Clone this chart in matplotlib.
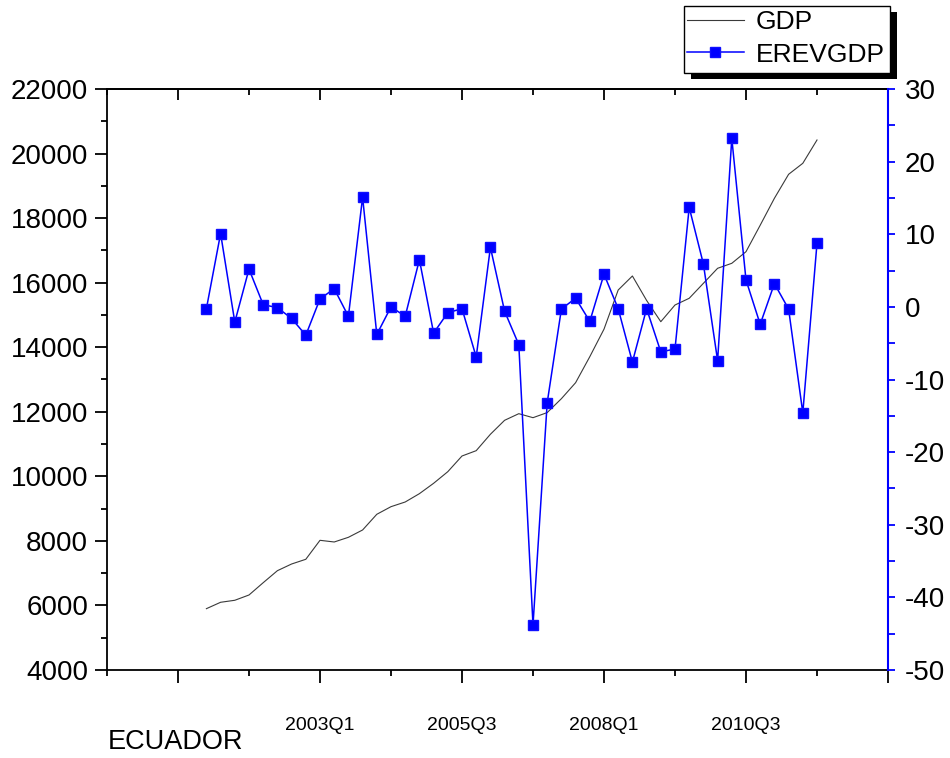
import matplotlib
matplotlib.use("Agg")
from matplotlib import pyplot as plt
from matplotlib.patches import Rectangle
from matplotlib.ticker import MultipleLocator, FixedLocator

plt.rcParams['font.family'] = ['Liberation Sans', 'DejaVu Sans']
plt.rcParams['axes.unicode_minus'] = False

# quarterly series, 2001Q1 .. 2011Q4
gdp = [5900, 6098, 6160, 6324, 6705, 7077, 7284, 7430, 8018, 7966,
       8111, 8338, 8824, 9060, 9205, 9463, 9784, 10144, 10630, 10795,
       11303, 11736, 11941, 11817, 11975, 12406, 12901, 13707, 14560, 15773,
       16207, 15450, 14791, 15308, 15516, 15980, 16445, 16600, 16960, 17780,
       18614, 19357, 19698, 20420]
erevgdp = [-0.25, 10.1, -2.1, 5.2, 0.3, -0.1, -1.6, -3.9, 1.1, 2.5,
           -1.3, 15.1, -3.8, 0.0, -1.3, 6.5, -3.6, -0.8, -0.25, -6.9,
           8.2, -0.6, -5.2, -43.8, -13.2, -0.3, 1.2, -2.0, 4.5, -0.25,
           -7.6, -0.25, -6.2, -5.8, 13.7, 5.9, -7.4, 23.2, 3.7, -2.4,
           3.2, -0.3, -14.6, 8.75]
quarter = list(range(len(gdp)))

major_x = [-2, 8, 18, 28, 38, 48]
major_x_labels = ['', '2003Q1', '2005Q3', '2008Q1', '2010Q3', '']
minor_x = [-7, 3, 13, 23, 33, 43]

W, H = 950, 758
fig = plt.figure(figsize=(W / 100, H / 100), dpi=100)
ax = fig.add_axes([107 / W, 88 / H, 781 / W, 581 / H])

gdp_line, = ax.plot(quarter, gdp, color='#3a3a3a', lw=0.8, label='GDP')
ax.set_xlim(-7, 48)
ax.set_ylim(4000, 22000)
ax.yaxis.set_major_locator(MultipleLocator(2000))
ax.yaxis.set_minor_locator(MultipleLocator(1000))
ax.xaxis.set_major_locator(FixedLocator(major_x))
ax.xaxis.set_minor_locator(FixedLocator(minor_x))
ax.set_xticklabels(major_x_labels)

ax.tick_params(axis='y', which='major', direction='out', length=8.6, width=1.3,
               labelsize=20, pad=5)
ax.tick_params(axis='y', which='minor', direction='out', length=4.3, width=1.3)
ax.tick_params(axis='x', which='major', direction='out', length=9, width=1.3,
               labelsize=14, pad=25)
ax.tick_params(axis='x', which='minor', direction='out', length=4.5, width=1.3)
for side in ('left', 'bottom', 'top'):
    ax.spines[side].set_linewidth(1.3)
ax.spines['right'].set_visible(False)

# inward ticks along the top edge
top = ax.secondary_xaxis('top')
top.xaxis.set_major_locator(FixedLocator(major_x))
top.xaxis.set_minor_locator(FixedLocator(minor_x))
top.tick_params(which='major', direction='in', length=7.7, width=1.3, labeltop=False)
top.tick_params(which='minor', direction='in', length=4, width=1.3)
top.spines['top'].set_linewidth(1.3)

ax2 = ax.twinx()
erev_line, = ax2.plot(quarter, erevgdp, color='#0000ff', lw=1.1, marker='s',
                      ms=7.7, mec='#1010ff', label='EREVGDP')
ax2.set_ylim(-50, 30)
ax2.yaxis.set_major_locator(MultipleLocator(10))
ax2.yaxis.set_minor_locator(MultipleLocator(5))
ax2.tick_params(axis='y', which='both', direction='out', length=5, width=1.3,
                color='#0000ff', labelsize=20, pad=7)
for side in ('left', 'bottom', 'top'):
    ax2.spines[side].set_visible(False)
ax2.spines['right'].set_color('#0000ff')
ax2.spines['right'].set_linewidth(1.5)

# legend box with a solid drop shadow, above the plot on the right
bx, by, bw, bh = 684, 6, 206, 67
fig.add_artist(Rectangle(((bx + 7) / W, (H - by - bh - 6) / H), bw / W, bh / H,
                         transform=fig.transFigure, fc='black', ec='black', lw=0))
fig.add_artist(Rectangle((bx / W, (H - by - bh) / H), bw / W, bh / H,
                         transform=fig.transFigure, fc='white', ec='black', lw=1))
fig.legend([gdp_line, erev_line], ['GDP', 'EREVGDP'], loc='upper left',
           bbox_to_anchor=(687 / W, (H - 10) / H), frameon=False, fontsize=19,
           handlelength=2.15, handletextpad=0.45, labelspacing=0.33,
           borderpad=0, borderaxespad=0)

fig.text(108 / W, (H - 742) / H, 'ECUADOR', fontsize=19.5, va='center', ha='left')

fig.savefig('out.png', dpi=100)
